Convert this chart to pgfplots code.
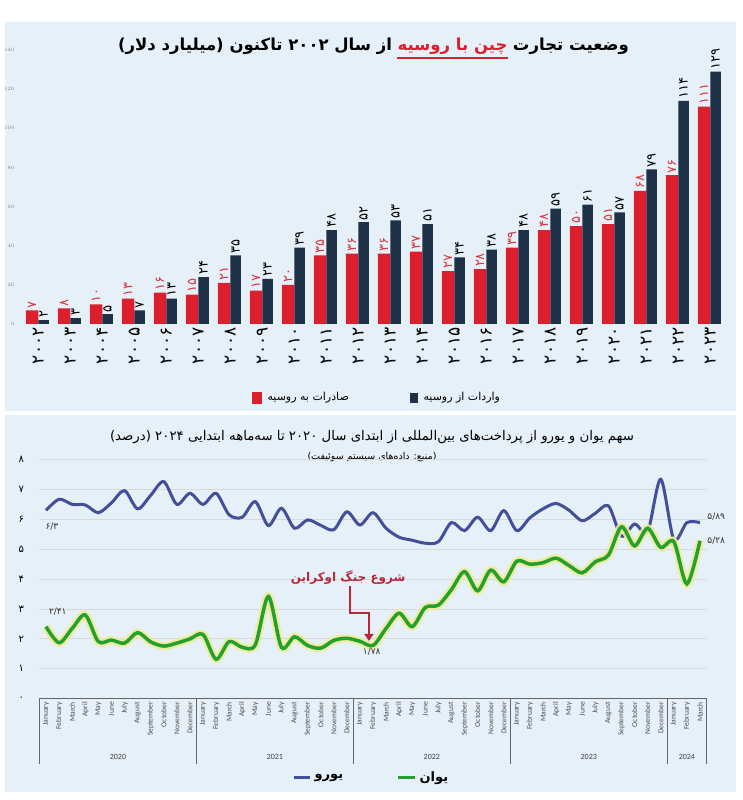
\documentclass[border=0pt]{standalone}
\usepackage{pgfplots}
\pgfplotsset{compat=1.18}
\usepackage{pgfplotstable}
\usepackage{fontspec}
\usetikzlibrary{arrows.meta}
\setmainfont{Carlito}
\newfontfamily\fa[Script=Arabic]{DejaVu Sans}
\TeXXeTstate=1

\definecolor{panel}{HTML}{E6F0F8}
\definecolor{expred}{HTML}{DC1F2E}
\definecolor{impnavy}{HTML}{1F3147}
\definecolor{lblred}{HTML}{D9353F}
\definecolor{eurob}{HTML}{434F9A}
\definecolor{yuang}{HTML}{23A02F}
\definecolor{glow}{HTML}{EEEC96}
\definecolor{warred}{HTML}{B8283B}

% month index (0 = Jan 2020), share of payments in percent
\pgfplotstableread{
m euro yuan
0 6.30 2.41
1 6.67 1.87
2 6.50 2.35
3 6.48 2.80
4 6.22 1.91
5 6.55 1.96
6 6.96 1.86
7 6.35 2.21
8 6.80 1.90
9 7.26 1.76
10 6.50 1.86
11 6.87 2.00
12 6.50 2.15
13 6.87 1.32
14 6.15 1.91
15 6.07 1.72
16 6.59 1.80
17 5.79 3.42
18 6.37 1.72
19 5.70 2.07
20 5.98 1.78
21 5.80 1.69
22 5.65 1.95
23 6.25 2.02
24 5.81 1.92
25 6.22 1.78
26 5.70 2.35
27 5.40 2.86
28 5.30 2.41
29 5.20 3.05
30 5.25 3.13
31 5.89 3.65
32 5.62 4.25
33 6.07 3.61
34 5.62 4.30
35 6.29 3.91
36 5.62 4.60
37 6.05 4.50
38 6.35 4.55
39 6.53 4.70
40 6.30 4.45
41 5.95 4.21
42 6.20 4.58
43 6.45 4.80
44 5.44 5.75
45 5.84 5.11
46 5.59 5.70
47 7.34 5.06
48 5.33 5.25
49 5.89 3.84
50 5.89 5.28
}\share

\begin{document}
\begin{tikzpicture}
\begin{scope}[x=1pt,y=1pt]
\path[use as bounding box] (0,0) rectangle (743,800);
\fill[panel] (5,389) rectangle (736,778);
\fill[panel] (5,8) rectangle (736,385);

% ---------- upper panel title, in three pieces so the colour stays put
\begin{scope}[every node/.style={font=\fa\bfseries\fontsize{16.5}{18}\selectfont, inner sep=0pt}]
\node[anchor=base east] (tA) at (629,749) {\beginR وضعیت تجارت\endR};
\node[anchor=base east, text=expred] (tB) at ([xshift=-5pt]tA.base west) {\beginR چین با روسیه\endR};
\node[anchor=base east] (tC) at ([xshift=-5pt]tB.base west) {\beginR از سال ۲۰۰۲ تاکنون (میلیارد دلار)\endR};
\end{scope}
\draw[expred, line width=1.3pt] ([yshift=-7pt]tB.base west) -- ([yshift=-7pt]tB.base east);

% legend of the bars
\fill[expred] (252,396) rectangle (262,408);
\node[font=\fa\fontsize{11}{12}\selectfont, anchor=west] at (264,402) {\beginR صادرات به روسیه\endR};
\fill[impnavy] (410,397) rectangle (418,407);
\node[font=\fa\fontsize{11}{12}\selectfont, anchor=west] at (420,402) {\beginR واردات از روسیه\endR};

% ---------- lower panel titles
\node[font=\fa\fontsize{13.3}{15}\selectfont] at (372,363)
  {\beginR سهم یوان و یورو از پرداخت‌های بین‌المللی از ابتدای سال ۲۰۲۰ تا سه‌ماهه ابتدایی ۲۰۲۴ (درصد)\endR};
\node[font=\fa\fontsize{9.5}{11}\selectfont] at (372,343)
  {\beginR (منبع: داده‌های سیستم سوئیفت)\endR};

% legend of the lines
\draw[eurob, line width=3pt] (294,22) -- (310,22);
\node[font=\fa\bfseries\fontsize{13}{14}\selectfont, anchor=west] at (311,22) {\beginR یورو\endR};
\draw[yuang, line width=3pt] (398,22) -- (415,22);
\node[font=\fa\bfseries\fontsize{13}{14}\selectfont, anchor=west] at (416,22) {\beginR یوان\endR};
\end{scope}

% ---------- upper panel: trade
\begin{axis}[
  at={(18pt,476pt)}, anchor=south west,
  scale only axis, width=712pt, height=274pt,
  xmin=2001.366, xmax=2023.616, ymin=0, ymax=140,
  axis line style={draw=none}, major tick length=0pt,
  ytick={0,20,...,140},
  yticklabel style={font=\fontsize{4}{4}\selectfont, text=gray},
  xtick={2002,...,2023},
  xticklabels={۲۰۰۲,۲۰۰۳,۲۰۰۴,۲۰۰۵,۲۰۰۶,۲۰۰۷,۲۰۰۸,۲۰۰۹,۲۰۱۰,۲۰۱۱,۲۰۱۲,۲۰۱۳,۲۰۱۴,۲۰۱۵,۲۰۱۶,۲۰۱۷,۲۰۱۸,۲۰۱۹,۲۰۲۰,۲۰۲۱,۲۰۲۲,۲۰۲۳},
  xticklabel style={rotate=90, anchor=east, font=\fa\fontsize{17}{17}\selectfont, text=black},
  clip=false,
  nodes near coords, point meta=explicit symbolic,
]
\addplot[ybar, fill=expred, draw=none, bar width=12.5pt, bar shift=-6.25pt,
  every node near coord/.style={xshift=-6.25pt, rotate=90, anchor=west, inner sep=2pt,
    font=\fa\fontsize{13}{13}\selectfont, text=lblred}]
coordinates {
 (2002,7)[۷] (2003,8)[۸] (2004,10)[۱۰] (2005,13)[۱۳] (2006,16)[۱۶]
 (2007,15)[۱۵] (2008,21)[۲۱] (2009,17)[۱۷] (2010,20)[۲۰] (2011,35)[۳۵]
 (2012,36)[۳۶] (2013,36)[۳۶] (2014,37)[۳۷] (2015,27)[۲۷] (2016,28)[۲۸]
 (2017,39)[۳۹] (2018,48)[۴۸] (2019,50)[۵۰] (2020,51)[۵۱] (2021,68)[۶۸]
 (2022,76)[۷۶] (2023,111)[۱۱۱]
};
\addplot[ybar, fill=impnavy, draw=none, bar width=10.5pt, bar shift=5.25pt,
  every node near coord/.style={xshift=5.25pt, rotate=90, anchor=west, inner sep=2pt,
    font=\fa\fontsize{13}{13}\selectfont, text=black}]
coordinates {
 (2002,2)[۲] (2003,3)[۳] (2004,5)[۵] (2005,7)[۷] (2006,13)[۱۳]
 (2007,24)[۲۴] (2008,35)[۳۵] (2009,23)[۲۳] (2010,39)[۳۹] (2011,48)[۴۸]
 (2012,52)[۵۲] (2013,53)[۵۳] (2014,51)[۵۱] (2015,34)[۳۴] (2016,38)[۳۸]
 (2017,48)[۴۸] (2018,59)[۵۹] (2019,61)[۶۱] (2020,57)[۵۷] (2021,79)[۷۹]
 (2022,114)[۱۱۴] (2023,129)[۱۲۹]
};
\end{axis}

% ---------- lower panel: payment shares
\begin{axis}[
  at={(39.5pt,101.3pt)}, anchor=south west,
  scale only axis, width=667pt, height=239.2pt,
  xmin=-0.5, xmax=50.5, ymin=0, ymax=8,
  axis line style={draw=none}, major tick length=0pt,
  ytick={0,...,8}, yticklabels={۰,۱,۲,۳,۴,۵,۶,۷,۸},
  yticklabel style={font=\fa\fontsize{10}{10}\selectfont, xshift=-12pt},
  ymajorgrids, grid style={black!15, line width=0.8pt},
  xtick={0,...,50},
  xticklabels={January,February,March,April,May,June,July,August,September,October,November,December,
    January,February,March,April,May,June,July,August,September,October,November,December,
    January,February,March,April,May,June,July,August,September,October,November,December,
    January,February,March,April,May,June,July,August,September,October,November,December,
    January,February,March},
  xticklabel style={rotate=90, anchor=east, font=\fontsize{7.5}{8}\selectfont, text=black!70},
  clip=false,
]
\addplot[eurob, line width=3pt, smooth, tension=0.5] table[x=m, y=euro] {\share};
\addplot[glow, line width=8pt, smooth, tension=0.5, opacity=0.9] table[x=m, y=yuan] {\share};
\addplot[yuang, line width=3.5pt, smooth, tension=0.5] table[x=m, y=yuan] {\share};

\draw[black!60, line width=1.2pt] (axis cs:-0.5,0) -- (axis cs:50.5,0);
\draw[black!60, line width=1.2pt] (axis cs:-0.5,0) -- (axis cs:-0.5,-2.2);
\draw[black!60, line width=1.2pt] (axis cs:11.5,0) -- (axis cs:11.5,-2.2);
\draw[black!60, line width=1.2pt] (axis cs:23.5,0) -- (axis cs:23.5,-2.2);
\draw[black!60, line width=1.2pt] (axis cs:35.5,0) -- (axis cs:35.5,-2.2);
\draw[black!60, line width=1.2pt] (axis cs:47.5,0) -- (axis cs:47.5,-2.2);
\draw[black!60, line width=1.2pt] (axis cs:50.5,0) -- (axis cs:50.5,-2.2);
\node[font=\fontsize{8}{8}\selectfont, text=black!75] at (axis cs:5.5,-1.95) {2020};
\node[font=\fontsize{8}{8}\selectfont, text=black!75] at (axis cs:17.5,-1.95) {2021};
\node[font=\fontsize{8}{8}\selectfont, text=black!75] at (axis cs:29.5,-1.95) {2022};
\node[font=\fontsize{8}{8}\selectfont, text=black!75] at (axis cs:41.5,-1.95) {2023};
\node[font=\fontsize{8}{8}\selectfont, text=black!75] at (axis cs:49,-1.95) {2024};

\node[font=\fa\fontsize{9}{9}\selectfont, text=black!80] at (axis cs:0.45,5.74) {۶/۳};
\node[font=\fa\fontsize{9}{9}\selectfont, text=black!80] at (axis cs:0.9,2.9) {۲/۴۱};
\node[font=\fa\fontsize{9}{9}\selectfont, text=black!80] at (axis cs:24.9,1.56) {۱/۷۸};
\node[font=\fa\fontsize{9}{9}\selectfont, text=black!80, anchor=west] at (axis cs:50.3,6.08) {۵/۸۹};
\node[font=\fa\fontsize{9}{9}\selectfont, text=black!80, anchor=west] at (axis cs:50.3,5.27) {۵/۲۸};

\node[font=\fa\bfseries\fontsize{12}{13}\selectfont, text=warred] at (axis cs:23.1,4.06) {\beginR شروع جنگ اوکراین\endR};
\draw[warred, line width=2.5pt, -{Triangle[length=7pt,width=9pt]}]
  (axis cs:23.24,3.77) -- (axis cs:23.24,2.87) -- (axis cs:24.69,2.87) -- (axis cs:24.69,1.93);
\end{axis}
\end{tikzpicture}
\end{document}
